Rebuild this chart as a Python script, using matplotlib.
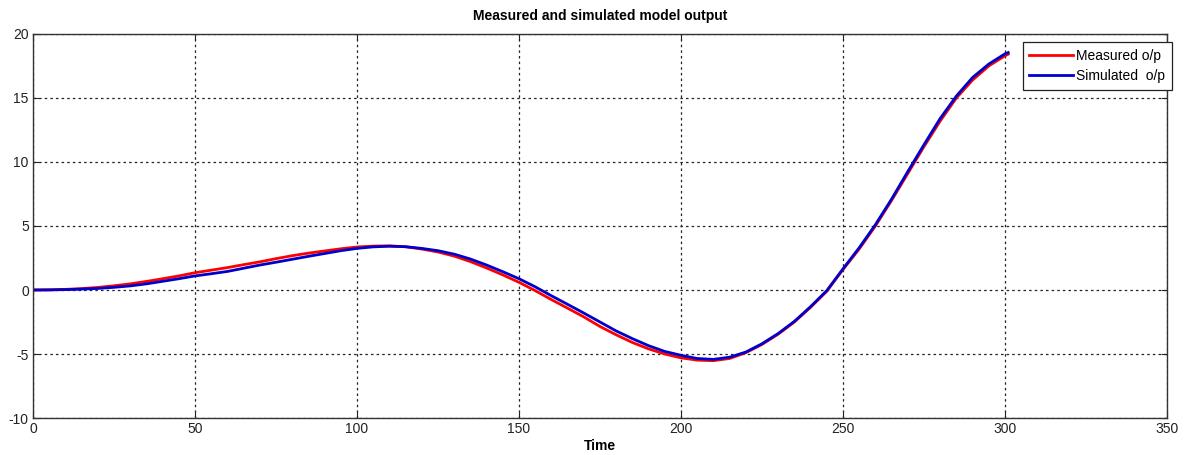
import matplotlib
matplotlib.use("Agg")
import matplotlib.pyplot as plt

plt.rcParams["font.family"] = ["Liberation Sans", "DejaVu Sans"]
plt.rcParams["axes.unicode_minus"] = False  # MATLAB prints a plain hyphen

# Time samples and the two model outputs
time = [0, 5, 10, 15, 20, 25, 30, 35, 40, 45, 50, 55, 60, 65, 70, 75, 80, 85,
        90, 95, 100, 105, 110, 115, 120, 125, 130, 135, 140, 145, 150, 155,
        160, 165, 170, 175, 180, 185, 190, 195, 200, 205, 210, 215, 220, 225,
        230, 235, 240, 245, 250, 255, 260, 265, 270, 275, 280, 285, 290, 295,
        300, 301]
measured = [0, 0.01, 0.05, 0.11, 0.2, 0.33, 0.48, 0.67, 0.88, 1.1, 1.35, 1.55,
            1.75, 1.98, 2.2, 2.45, 2.68, 2.88, 3.05, 3.22, 3.36, 3.43, 3.45,
            3.38, 3.2, 2.97, 2.65, 2.22, 1.72, 1.18, 0.6, -0.05, -0.75, -1.42,
            -2.1, -2.85, -3.5, -4.1, -4.6, -5.0, -5.3, -5.48, -5.52, -5.35,
            -4.9, -4.25, -3.45, -2.5, -1.35, -0.1, 1.6, 3.2, 5.0, 7.0, 9.1,
            11.2, 13.2, 15.0, 16.4, 17.5, 18.3, 18.42]
simulated = [0, 0.01, 0.03, 0.07, 0.12, 0.21, 0.32, 0.48, 0.68, 0.88, 1.1,
             1.27, 1.45, 1.7, 1.95, 2.17, 2.4, 2.63, 2.85, 3.07, 3.25, 3.37,
             3.42, 3.38, 3.25, 3.07, 2.8, 2.42, 1.95, 1.43, 0.88, 0.25, -0.45,
             -1.12, -1.8, -2.5, -3.2, -3.8, -4.35, -4.8, -5.1, -5.35, -5.42,
             -5.25, -4.85, -4.2, -3.4, -2.45, -1.3, -0.05, 1.65, 3.3, 5.1, 7.1,
             9.25, 11.35, 13.4, 15.15, 16.6, 17.65, 18.45, 18.55]

x_ticks = [0, 50, 100, 150, 200, 250, 300, 350]
y_ticks = [-10, -5, 0, 5, 10, 15, 20]

fig = plt.figure(figsize=(11.84, 4.55), dpi=100)
ax = fig.add_axes([0.0279, 0.0813, 0.9577, 0.844])

ax.plot(time, measured, color="#ff0000", linewidth=2, label="Measured o/p")
ax.plot(time, simulated, color="#0000cc", linewidth=2, label="Simulated  o/p")

ax.set_xlim(0, 350)
ax.set_ylim(-10, 20)
ax.set_xticks(x_ticks)
ax.set_yticks(y_ticks)

# MATLAB-like dotted grid and inward ticks on all sides
ax.grid(True, color="#222222", linestyle=(0, (2, 2.5)), linewidth=0.9)
ax.tick_params(direction="in", length=4, top=True, right=True,
               labelsize=10, pad=3, colors="#222222")
for spine in ax.spines.values():
    spine.set_linewidth(1.0)
    spine.set_color("#333333")

ax.set_title("Measured and simulated model output", fontsize=10,
             weight="bold", pad=10)
ax.set_xlabel("Time", fontsize=10, weight="bold", labelpad=2)

leg = ax.legend(loc="upper right", bbox_to_anchor=(1.0044, 0.98),
                borderaxespad=0, fontsize=10, handlelength=3.1,
                fancybox=False, framealpha=1, edgecolor="#222222",
                borderpad=0.5, labelspacing=0.45, handletextpad=0.25)
leg.get_frame().set_linewidth(0.9)

plt.savefig("out.png", dpi=100)
plt.close()
